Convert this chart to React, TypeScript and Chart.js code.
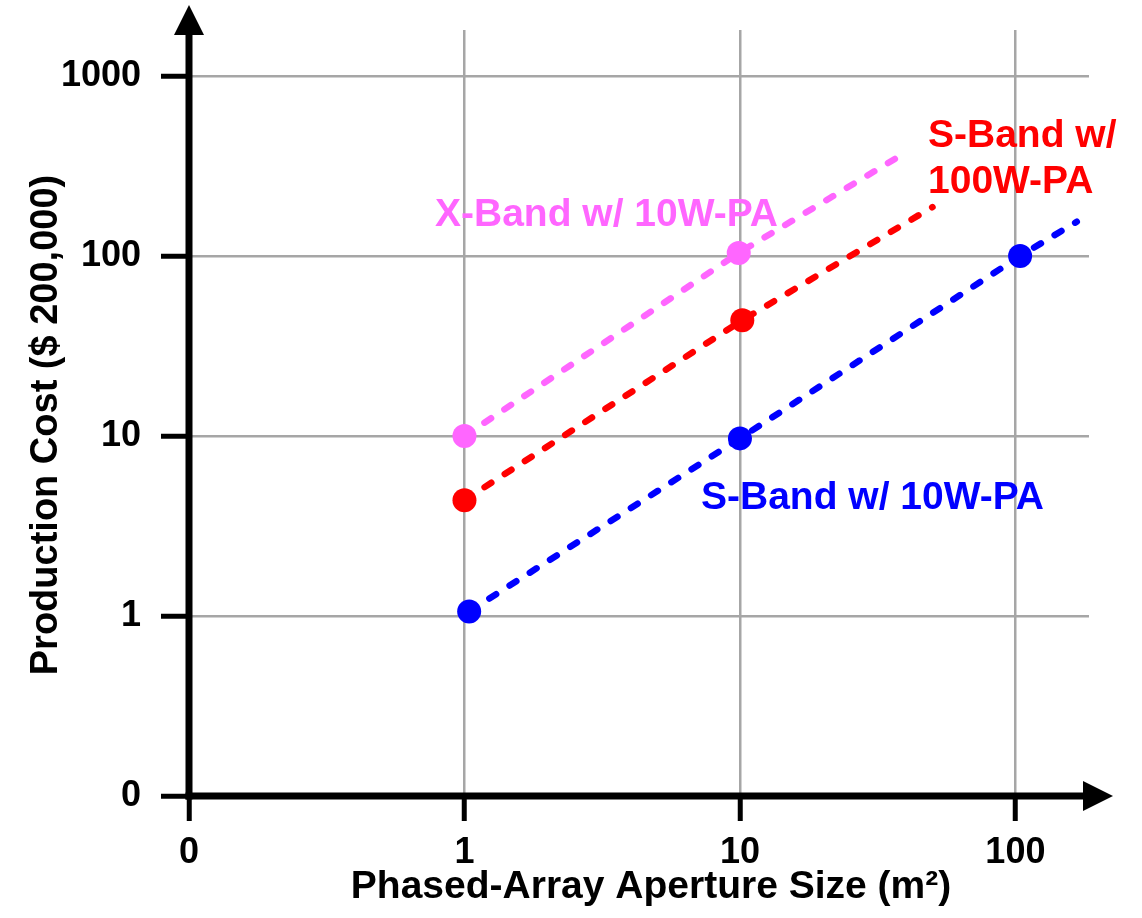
import { useEffect, useRef } from 'react';
import { Chart, registerables } from 'chart.js';

Chart.register(...registerables);

// Axis ticks (the lowest decade is labelled "0" at the origin)
const xTickValues = [0.1, 1, 10, 100];
const yTickValues = [0.1, 1, 10, 100, 1000];
const tickText = (v: number) => (v === 0.1 ? '0' : String(v));

// S-Band w/ 10W-PA: measured points, last entry is the trend extension
const sBand10wX = [1.04, 10, 104, 167];
const sBand10wY = [1.06, 9.7, 100, 155];

// S-Band w/ 100W-PA
const sBand100wX = [1, 10.2, 50];
const sBand100wY = [4.4, 44, 187];

// X-Band w/ 10W-PA
const xBand10wX = [1, 9.9, 36.5];
const xBand10wY = [10, 104, 346];

const FONT = "'Liberation Sans', Arial, Helvetica, sans-serif";
const BLUE = '#0000FF';
const RED = '#FF0000';
const PINK = '#FF66FF';
const GRID = '#A6A6A6';

const toPoints = (xs: number[], ys: number[]) => xs.map((x, i) => ({ x, y: ys[i] }));

const series = (label: string, xs: number[], ys: number[], color: string) => ({
  label,
  data: toPoints(xs, ys),
  borderColor: color,
  backgroundColor: color,
  pointBackgroundColor: color,
  pointBorderWidth: 0,
  pointRadius: (ctx: any) => (ctx.dataIndex === xs.length - 1 ? 0 : 12),
  borderWidth: 6.5,
  borderDash: [8, 16],
  borderCapStyle: 'round' as const,
  tension: 0,
  fill: false,
});

const decorations = {
  id: 'decorations',
  beforeDatasetsDraw(chart: any) {
    const ctx = chart.ctx as CanvasRenderingContext2D;
    ctx.save();
    ctx.font = `bold 39px ${FONT}`;
    ctx.textBaseline = 'alphabetic';
    ctx.textAlign = 'left';
    ctx.fillStyle = PINK;
    ctx.fillText('X-Band w/ 10W-PA', 435, 226);
    ctx.fillStyle = RED;
    ctx.fillText('S-Band w/', 928, 147);
    ctx.fillText('100W-PA', 928, 193);
    ctx.fillStyle = BLUE;
    ctx.fillText('S-Band w/ 10W-PA', 701, 509);
    ctx.restore();
  },
  afterDraw(chart: any) {
    const ctx = chart.ctx as CanvasRenderingContext2D;
    const { left, bottom } = chart.chartArea;
    ctx.save();
    ctx.strokeStyle = '#000';
    ctx.fillStyle = '#000';
    ctx.lineWidth = 7;
    ctx.lineCap = 'butt';
    // y axis with arrow
    ctx.beginPath();
    ctx.moveTo(left, bottom + 3.5);
    ctx.lineTo(left, 30);
    ctx.stroke();
    ctx.beginPath();
    ctx.moveTo(left, 5);
    ctx.lineTo(left - 15, 35);
    ctx.lineTo(left + 15, 35);
    ctx.closePath();
    ctx.fill();
    // x axis with arrow
    ctx.beginPath();
    ctx.moveTo(left - 3.5, bottom);
    ctx.lineTo(1088, bottom);
    ctx.stroke();
    ctx.beginPath();
    ctx.moveTo(1113, bottom);
    ctx.lineTo(1083, bottom - 15);
    ctx.lineTo(1083, bottom + 15);
    ctx.closePath();
    ctx.fill();

    // axis titles
    ctx.textAlign = 'center';
    ctx.textBaseline = 'alphabetic';
    ctx.font = `bold 39px ${FONT}`;
    ctx.fillText('Phased-Array Aperture Size (m\u00B2)', 651, 898);
    ctx.font = `bold 38px ${FONT}`;
    ctx.translate(57, 425);
    ctx.rotate(-Math.PI / 2);
    ctx.fillText('Production Cost ($ 200,000)', 0, 0);
    ctx.restore();
  },
};

const tickFont = { family: FONT, size: 36, weight: 'bold' as const };

export default function App() {
  const canvasRef = useRef<HTMLCanvasElement | null>(null);

  useEffect(() => {
    const canvas = canvasRef.current;
    if (!canvas) return;
    const chart = new Chart(canvas, {
      type: 'line',
      data: {
        datasets: [
          series('S-Band w/ 10W-PA', sBand10wX, sBand10wY, BLUE),
          series('S-Band w/ 100W-PA', sBand100wX, sBand100wY, RED),
          series('X-Band w/ 10W-PA', xBand10wX, xBand10wY, PINK),
        ] as any,
      },
      options: {
        animation: false,
        responsive: false,
        events: [],
        layout: { padding: { left: 0, top: 30, right: 53, bottom: 0 } },
        plugins: {
          legend: { display: false },
          tooltip: { enabled: false },
        },
        scales: {
          x: {
            type: 'logarithmic',
            min: 0.1,
            max: 185,
            afterBuildTicks: (s: any) => {
              s.ticks = xTickValues.map((value) => ({ value }));
            },
            afterFit: (s: any) => {
              s.height = 122;
              s.paddingLeft = 0;
              s.paddingRight = 0;
            },
            ticks: {
              callback: (v: any) => tickText(Number(v)),
              font: tickFont,
              color: '#000',
              padding: 10,
              maxRotation: 0,
              autoSkip: false,
            },
            grid: {
              color: (c: any) => (c.tick && c.tick.value === 0.1 ? 'rgba(0,0,0,0)' : GRID),
              lineWidth: 2.5,
              tickColor: '#000',
              tickWidth: 5,
              tickLength: 25,
            },
            border: { display: false },
          },
          y: {
            type: 'logarithmic',
            min: 0.1,
            max: 1801,
            afterBuildTicks: (s: any) => {
              s.ticks = yTickValues.map((value) => ({ value }));
            },
            afterFit: (s: any) => {
              s.width = 189;
              s.paddingTop = 0;
              s.paddingBottom = 0;
            },
            ticks: {
              callback: (v: any) => tickText(Number(v)),
              font: tickFont,
              color: '#000',
              padding: 20,
              autoSkip: false,
            },
            grid: {
              color: (c: any) => (c.tick && c.tick.value === 0.1 ? 'rgba(0,0,0,0)' : GRID),
              lineWidth: 2.5,
              tickColor: '#000',
              tickWidth: 5,
              tickLength: 28,
            },
            border: { display: false },
          },
        },
      } as any,
      plugins: [decorations],
    });
    return () => chart.destroy();
  }, []);

  return (
    <div style={{ position: 'absolute', left: 0, top: 0, width: 1142, height: 918, background: '#fff' }}>
      <canvas ref={canvasRef} width={1142} height={918} style={{ display: 'block' }} />
    </div>
  );
}
